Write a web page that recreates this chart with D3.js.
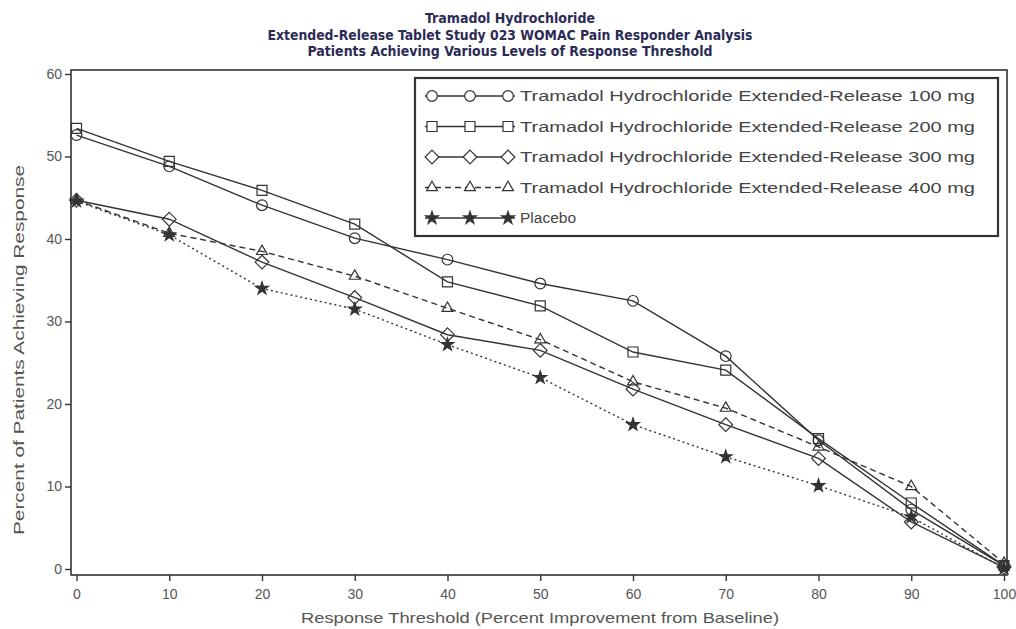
<!DOCTYPE html>
<html>
<head>
<meta charset="utf-8">
<script src="https://cdn.jsdelivr.net/npm/d3@7"></script>
<style>
  body { margin: 0; background: #fff; }
  svg { display: block; font-family: "Liberation Sans", Arial, sans-serif; }
</style>
</head>
<body>
<svg id="chart" width="1016" height="629"></svg>
<script>
// values
const thresholds = [0, 10, 20, 30, 40, 50, 60, 70, 80, 90, 100];
const er100 = [52.6, 48.8, 44.1, 40.1, 37.5, 34.6, 32.5, 25.8, 15.6, 7.2, 0.4];
const er200 = [53.4, 49.4, 45.9, 41.8, 34.8, 31.9, 26.3, 24.1, 15.8, 8.0, 0.4];
const er300 = [44.7, 42.4, 37.2, 32.9, 28.4, 26.5, 21.8, 17.5, 13.4, 5.7, 0.2];
const er400 = [44.7, 40.7, 38.5, 35.5, 31.6, 27.8, 22.7, 19.5, 14.8, 10.0, 0.7];
const placebo = [44.6, 40.5, 34.0, 31.5, 27.2, 23.2, 17.5, 13.6, 10.1, 6.3, 0.1];
const seriesNames = [
  "Tramadol Hydrochloride Extended-Release 100 mg",
  "Tramadol Hydrochloride Extended-Release 200 mg",
  "Tramadol Hydrochloride Extended-Release 300 mg",
  "Tramadol Hydrochloride Extended-Release 400 mg",
  "Placebo"
];
const yTicks = [0, 10, 20, 30, 40, 50, 60];
const titleLines = [
  "Tramadol  Hydrochloride",
  "Extended-Release Tablet Study 023 WOMAC Pain Responder Analysis",
  "Patients Achieving Various Levels of Response Threshold"
];
const titleWidths = [170, 485, 405];

const svg = d3.select("#chart");
const ink = "#333";

const x = d3.scaleLinear().domain([0, 100]).range([76.5, 1004]);
const y = d3.scaleLinear().domain([0, 60]).range([569, 74]);

// frame
svg.append("rect")
  .attr("x", 71).attr("y", 70).attr("width", 936).attr("height", 505)
  .attr("fill", "none").attr("stroke", ink).attr("stroke-width", 1.6);

// axes
const xAxis = svg.append("g").attr("transform", "translate(0,575)")
  .call(d3.axisBottom(x).tickValues(thresholds).tickSize(6).tickPadding(8));
const yAxis = svg.append("g").attr("transform", "translate(71,0)")
  .call(d3.axisLeft(y).tickValues(yTicks).tickSize(6).tickPadding(3));
[xAxis, yAxis].forEach(g => {
  g.select(".domain").remove();
  g.selectAll("line").attr("stroke", ink).attr("stroke-width", 1.4);
  g.selectAll("text").attr("fill", "#555").style("font-size", "14px")
    .attr("font-family", "'Liberation Sans', Arial, sans-serif");
});

// titles
svg.selectAll(".title").data(titleLines).join("text")
  .attr("x", 510).attr("y", (d, i) => 23 + i * 16.5)
  .attr("text-anchor", "middle")
  .attr("font-family", "'Liberation Sans Narrow', 'DejaVu Sans Condensed', sans-serif")
  .attr("font-weight", "bold").attr("font-size", 14)
  .attr("fill", "#2b2b55")
  .attr("textLength", (d, i) => titleWidths[i])
  .attr("lengthAdjust", "spacingAndGlyphs")
  .text(d => d);

svg.append("text")
  .attr("x", 540).attr("y", 623).attr("text-anchor", "middle")
  .attr("font-size", 15).attr("fill", "#555")
  .attr("textLength", 478).attr("lengthAdjust", "spacingAndGlyphs")
  .text("Response Threshold (Percent Improvement from Baseline)");

svg.append("text")
  .attr("transform", "translate(24,350) rotate(-90)")
  .attr("text-anchor", "middle")
  .attr("font-size", 15).attr("fill", "#555")
  .attr("textLength", 370).attr("lengthAdjust", "spacingAndGlyphs")
  .text("Percent of Patients Achieving Response");

// marker shapes
const symbols = {
  circle: d3.symbol(d3.symbolCircle, 90),
  square: d3.symbol(d3.symbolSquare, 100),
  diamond: d3.symbol(d3.symbolDiamond2, 120),
  triangle: d3.symbol(d3.symbolTriangle2, 85),
  star: d3.symbol(d3.symbolStar, 50)
};

const series = [
  { name: seriesNames[0], values: er100, shape: "circle", dash: null },
  { name: seriesNames[1], values: er200, shape: "square", dash: null },
  { name: seriesNames[2], values: er300, shape: "diamond", dash: null },
  { name: seriesNames[3], values: er400, shape: "triangle", dash: "6,4" },
  { name: seriesNames[4], values: placebo, shape: "star", dash: "2,3" }
];

const line = d3.line().x((d, i) => x(thresholds[i])).y(d => y(d));

series.forEach(s => {
  svg.append("path")
    .attr("d", line(s.values))
    .attr("fill", "none").attr("stroke", ink).attr("stroke-width", 1.4)
    .attr("stroke-dasharray", s.dash);
  svg.selectAll(null).data(s.values).join("path")
    .attr("transform", (d, i) => `translate(${x(thresholds[i])},${y(d)})`)
    .attr("d", symbols[s.shape]())
    .attr("fill", s.shape === "star" ? ink : "none")
    .attr("stroke", ink).attr("stroke-width", 1.2);
});

// legend
const legend = svg.append("g");
legend.append("rect")
  .attr("x", 415).attr("y", 78).attr("width", 583).attr("height", 158)
  .attr("fill", "#fff").attr("stroke", ink).attr("stroke-width", 2.2);

series.forEach((s, i) => {
  const ly = 96 + i * 30.5;
  const g = legend.append("g");
  g.append("line")
    .attr("x1", 425).attr("x2", 515).attr("y1", ly).attr("y2", ly)
    .attr("stroke", ink).attr("stroke-width", 1.4)
    .attr("stroke-dasharray", i === 3 ? "6,4" : null);
  g.selectAll(null).data([432, 470, 508]).join("path")
    .attr("transform", d => `translate(${d},${ly})`)
    .attr("d", symbols[s.shape]())
    .attr("fill", s.shape === "star" ? ink : "#fff")
    .attr("stroke", ink).attr("stroke-width", 1.2);
  const t = g.append("text")
    .attr("x", 520).attr("y", ly + 5)
    .attr("font-size", 14).attr("fill", "#444")
    .text(s.name);
  if (i < 4) t.attr("textLength", 455).attr("lengthAdjust", "spacingAndGlyphs");
  else t.attr("textLength", 56).attr("lengthAdjust", "spacingAndGlyphs");
});
</script>
</body>
</html>
